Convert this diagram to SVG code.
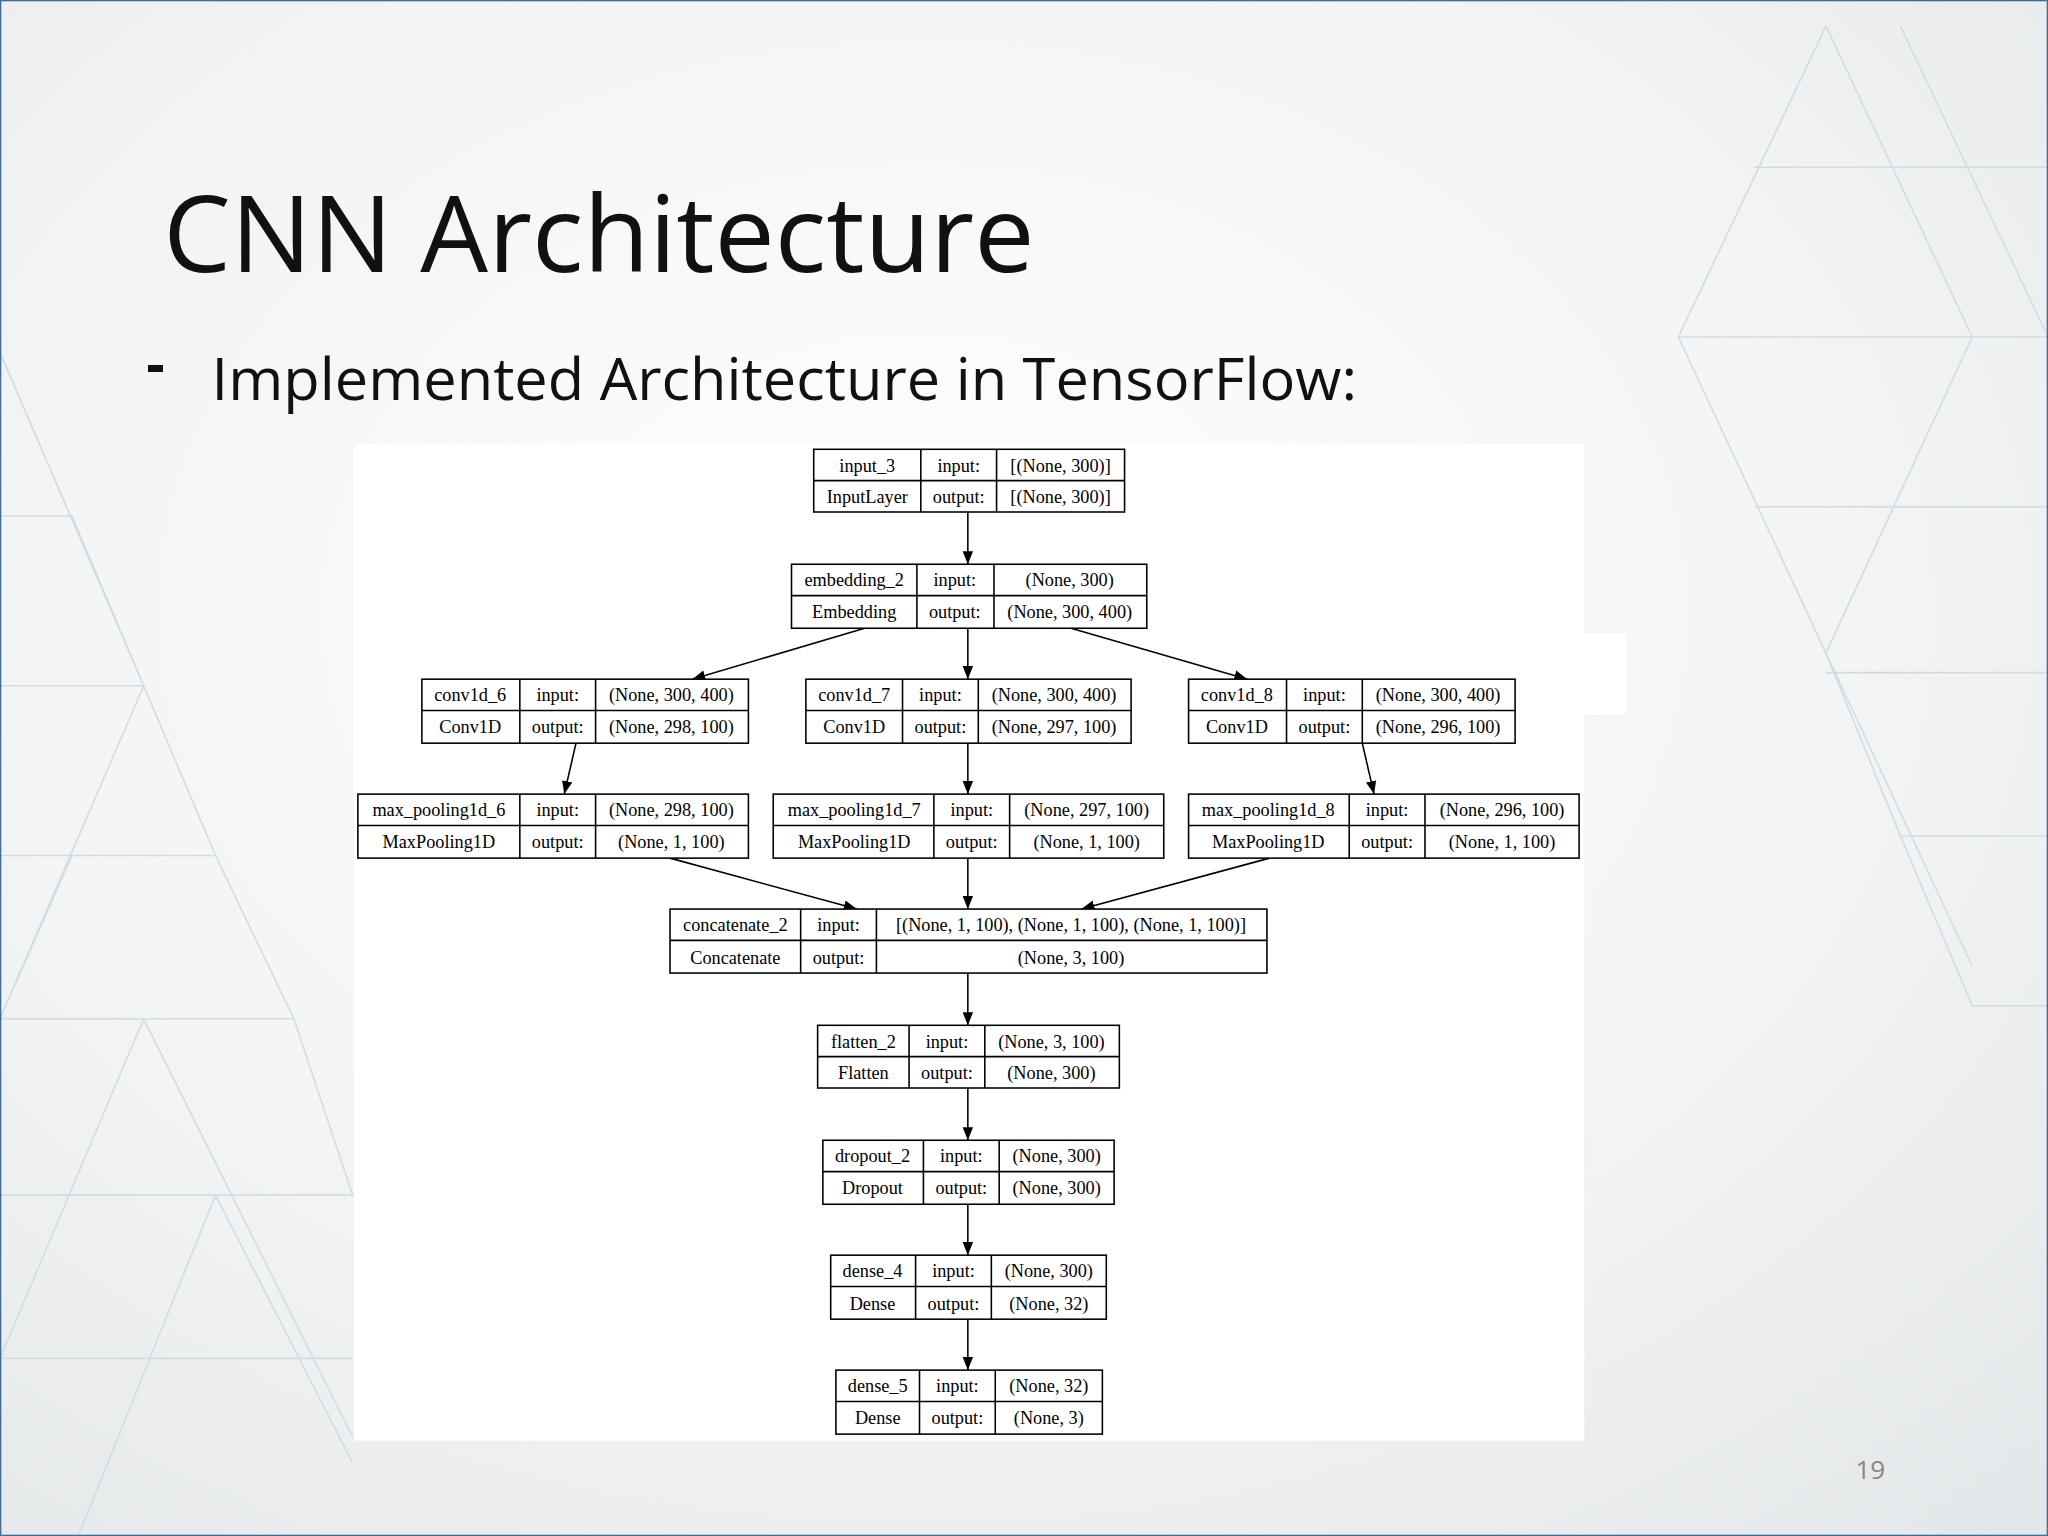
<svg xmlns="http://www.w3.org/2000/svg" width="2048" height="1536" viewBox="0 0 2048 1536">
<defs>
<radialGradient id="bg" cx="0.45" cy="0.4" r="0.8">
<stop offset="0" stop-color="#ffffff"/><stop offset="0.6" stop-color="#f1f3f4"/><stop offset="1" stop-color="#e4e7e9"/>
</radialGradient>
<marker id="ah" viewBox="0 0 10 10" refX="10" refY="5" markerWidth="10" markerHeight="10" markerUnits="userSpaceOnUse" orient="auto">
<path d="M0,1 L10,5 L0,9 z" fill="#000"/>
</marker>
<style>
.b{fill:#fff;stroke:#000;stroke-width:1.2}
.t{font-family:"Liberation Serif","DejaVu Serif",serif;font-size:14px;fill:#000;text-anchor:middle}
.e{stroke:#000;stroke-width:1.2;fill:none;marker-end:url(#ah)}
.d{stroke:#cfdde3;stroke-width:1.2;fill:none}
</style>
</defs>
<g transform="scale(1.306122)">
<rect width="1568" height="1176" fill="url(#bg)"/>
<g class="d">
<path d="M1398,20 L1285,258 L1398,500 L1285,258 L1568,258 M1343,128 L1568,128 M1343,388 L1568,388 M1398,20 L1510,258 L1398,500 L1510,740 M1455,20 L1568,258 M1398,500 L1455,640 L1568,640 M1398,515 L1568,515 M1455,640 L1510,770 L1568,770"/>
<path d="M0,270 L110,525 L0,780 M0,395 L55,395 M0,525 L110,525 L0,525 M0,655 L165,655 L55,395 M0,780 L225,780 L165,655 M0,915 L270,915 L225,780 M110,525 L0,525 M55,655 L0,780 M165,915 L60,1176 M165,915 L270,1120 M0,1040 L270,1040 M110,780 L0,1040 M110,780 L270,1100"/>
</g>
<rect x="0.5" y="0.5" width="1567" height="1175" fill="none" stroke="#3f6aa0" stroke-width="1"/>
<text x="125" y="208" font-family="'Open Sans','Noto Sans',sans-serif" font-size="82" fill="#111" textLength="667" lengthAdjust="spacingAndGlyphs">CNN Architecture</text>
<text x="112" y="294" font-family="'Open Sans','Noto Sans',sans-serif" font-size="44" font-weight="bold" fill="#111">-</text>
<text x="162" y="306" font-family="'Open Sans','Noto Sans',sans-serif" font-size="45" fill="#111" textLength="877" lengthAdjust="spacingAndGlyphs">Implemented Architecture in TensorFlow:</text>
<text x="1432" y="1132" font-family="'Open Sans','Noto Sans',sans-serif" font-size="20" fill="#888" text-anchor="middle">19</text>
<rect x="271" y="340" width="942" height="763" fill="#fff"/>
<rect x="1210" y="485" width="35" height="62" fill="#fff"/>

<g id="edges">
<line class="e" x1="741" y1="392" x2="741" y2="432"/>
<line class="e" x1="662" y1="481" x2="530" y2="520"/>
<line class="e" x1="741" y1="481" x2="741" y2="520"/>
<line class="e" x1="820" y1="481" x2="955" y2="520"/>
<line class="e" x1="441" y1="569" x2="432" y2="608"/>
<line class="e" x1="741" y1="569" x2="741" y2="608"/>
<line class="e" x1="1043" y1="569" x2="1052" y2="608"/>
<line class="e" x1="513" y1="657" x2="656" y2="696"/>
<line class="e" x1="741" y1="657" x2="741" y2="696"/>
<line class="e" x1="972" y1="657" x2="828" y2="696"/>
<line class="e" x1="741" y1="745" x2="741" y2="785"/>
<line class="e" x1="741" y1="833" x2="741" y2="873"/>
<line class="e" x1="741" y1="922" x2="741" y2="961"/>
<line class="e" x1="741" y1="1010" x2="741" y2="1049"/>
</g>

<g id="input_3"><rect class="b" x="623" y="344" width="238" height="48"/><path d="M623,368H861M705,344V392M763,344V392" stroke="#000" stroke-width="1.2"/>
<text class="t" x="664" y="361">input_3</text><text class="t" x="734" y="361">input:</text><text class="t" x="812" y="361">[(None, 300)]</text>
<text class="t" x="664" y="385">InputLayer</text><text class="t" x="734" y="385">output:</text><text class="t" x="812" y="385">[(None, 300)]</text></g>

<g id="embedding_2"><rect class="b" x="606" y="432" width="272" height="49"/><path d="M606,456H878M702,432V481M761,432V481" stroke="#000" stroke-width="1.2"/>
<text class="t" x="654" y="449">embedding_2</text><text class="t" x="731" y="449">input:</text><text class="t" x="819" y="449">(None, 300)</text>
<text class="t" x="654" y="473">Embedding</text><text class="t" x="731" y="473">output:</text><text class="t" x="819" y="473">(None, 300, 400)</text></g>

<g id="conv1d_6"><rect class="b" x="323" y="520" width="250" height="49"/><path d="M323,544H573M398,520V569M456,520V569" stroke="#000" stroke-width="1.2"/>
<text class="t" x="360" y="537">conv1d_6</text><text class="t" x="427" y="537">input:</text><text class="t" x="514" y="537">(None, 300, 400)</text>
<text class="t" x="360" y="561">Conv1D</text><text class="t" x="427" y="561">output:</text><text class="t" x="514" y="561">(None, 298, 100)</text></g>

<g id="conv1d_7"><rect class="b" x="617" y="520" width="249" height="49"/><path d="M617,544H866M691,520V569M749,520V569" stroke="#000" stroke-width="1.2"/>
<text class="t" x="654" y="537">conv1d_7</text><text class="t" x="720" y="537">input:</text><text class="t" x="807" y="537">(None, 300, 400)</text>
<text class="t" x="654" y="561">Conv1D</text><text class="t" x="720" y="561">output:</text><text class="t" x="807" y="561">(None, 297, 100)</text></g>

<g id="conv1d_8"><rect class="b" x="910" y="520" width="250" height="49"/><path d="M910,544H1160M985,520V569M1043,520V569" stroke="#000" stroke-width="1.2"/>
<text class="t" x="947" y="537">conv1d_8</text><text class="t" x="1014" y="537">input:</text><text class="t" x="1101" y="537">(None, 300, 400)</text>
<text class="t" x="947" y="561">Conv1D</text><text class="t" x="1014" y="561">output:</text><text class="t" x="1101" y="561">(None, 296, 100)</text></g>

<g id="max_pooling1d_6"><rect class="b" x="274" y="608" width="299" height="49"/><path d="M274,632H573M398,608V657M456,608V657" stroke="#000" stroke-width="1.2"/>
<text class="t" x="336" y="625">max_pooling1d_6</text><text class="t" x="427" y="625">input:</text><text class="t" x="514" y="625">(None, 298, 100)</text>
<text class="t" x="336" y="649">MaxPooling1D</text><text class="t" x="427" y="649">output:</text><text class="t" x="514" y="649">(None, 1, 100)</text></g>

<g id="max_pooling1d_7"><rect class="b" x="592" y="608" width="299" height="49"/><path d="M592,632H891M715,608V657M773,608V657" stroke="#000" stroke-width="1.2"/>
<text class="t" x="654" y="625">max_pooling1d_7</text><text class="t" x="744" y="625">input:</text><text class="t" x="832" y="625">(None, 297, 100)</text>
<text class="t" x="654" y="649">MaxPooling1D</text><text class="t" x="744" y="649">output:</text><text class="t" x="832" y="649">(None, 1, 100)</text></g>

<g id="max_pooling1d_8"><rect class="b" x="910" y="608" width="299" height="49"/><path d="M910,632H1209M1033,608V657M1091,608V657" stroke="#000" stroke-width="1.2"/>
<text class="t" x="971" y="625">max_pooling1d_8</text><text class="t" x="1062" y="625">input:</text><text class="t" x="1150" y="625">(None, 296, 100)</text>
<text class="t" x="971" y="649">MaxPooling1D</text><text class="t" x="1062" y="649">output:</text><text class="t" x="1150" y="649">(None, 1, 100)</text></g>

<g id="concatenate_2"><rect class="b" x="513" y="696" width="457" height="49"/><path d="M513,720H970M613,696V745M671,696V745" stroke="#000" stroke-width="1.2"/>
<text class="t" x="563" y="713">concatenate_2</text><text class="t" x="642" y="713">input:</text><text class="t" x="820" y="713">[(None, 1, 100), (None, 1, 100), (None, 1, 100)]</text>
<text class="t" x="563" y="738">Concatenate</text><text class="t" x="642" y="738">output:</text><text class="t" x="820" y="738">(None, 3, 100)</text></g>

<g id="flatten_2"><rect class="b" x="626" y="785" width="231" height="48"/><path d="M626,809H857M696,785V833M754,785V833" stroke="#000" stroke-width="1.2"/>
<text class="t" x="661" y="802">flatten_2</text><text class="t" x="725" y="802">input:</text><text class="t" x="805" y="802">(None, 3, 100)</text>
<text class="t" x="661" y="826">Flatten</text><text class="t" x="725" y="826">output:</text><text class="t" x="805" y="826">(None, 300)</text></g>

<g id="dropout_2"><rect class="b" x="630" y="873" width="223" height="49"/><path d="M630,897H853M707,873V922M765,873V922" stroke="#000" stroke-width="1.2"/>
<text class="t" x="668" y="890">dropout_2</text><text class="t" x="736" y="890">input:</text><text class="t" x="809" y="890">(None, 300)</text>
<text class="t" x="668" y="914">Dropout</text><text class="t" x="736" y="914">output:</text><text class="t" x="809" y="914">(None, 300)</text></g>

<g id="dense_4"><rect class="b" x="636" y="961" width="211" height="49"/><path d="M636,985H847M701,961V1010M759,961V1010" stroke="#000" stroke-width="1.2"/>
<text class="t" x="668" y="978">dense_4</text><text class="t" x="730" y="978">input:</text><text class="t" x="803" y="978">(None, 300)</text>
<text class="t" x="668" y="1003">Dense</text><text class="t" x="730" y="1003">output:</text><text class="t" x="803" y="1003">(None, 32)</text></g>

<g id="dense_5"><rect class="b" x="640" y="1049" width="204" height="49"/><path d="M640,1073H844M704,1049V1098M762,1049V1098" stroke="#000" stroke-width="1.2"/>
<text class="t" x="672" y="1066">dense_5</text><text class="t" x="733" y="1066">input:</text><text class="t" x="803" y="1066">(None, 32)</text>
<text class="t" x="672" y="1090">Dense</text><text class="t" x="733" y="1090">output:</text><text class="t" x="803" y="1090">(None, 3)</text></g>
</g>
</svg>
